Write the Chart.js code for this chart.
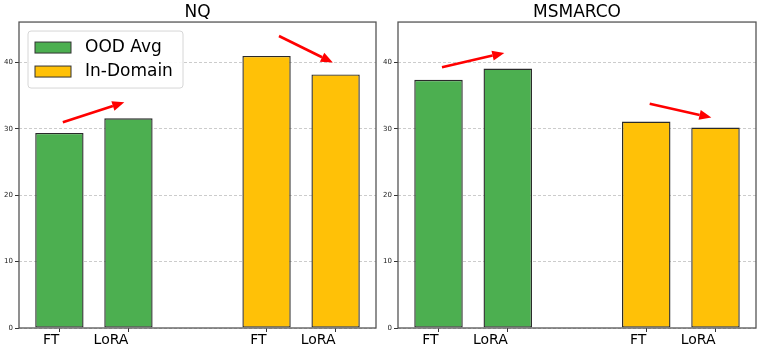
<!DOCTYPE html>
<html>
<head>
<meta charset="utf-8">
<script src="https://cdn.jsdelivr.net/npm/chart.js@4/dist/chart.umd.min.js"></script>
<style>
  html, body { margin: 0; padding: 0; background: #fff; overflow: hidden; }
  .panel { position: absolute; top: 0; height: 352px; }
  #left { left: 0; width: 380px; }
  #right { left: 380px; width: 381px; }
</style>
</head>
<body>
<div class="panel" id="left"><canvas id="nq-chart"></canvas></div>
<div class="panel" id="right"><canvas id="ms-chart"></canvas></div>
<script>
const methods = ['FT', 'LoRA'];
const seriesNames = ['OOD Avg', 'In-Domain'];
const oodPos = [0, 1];
const inDomainPos = [3, 4];

const nqOOD = [29.4, 31.6];
const nqInDomain = [41.0, 38.2];
const msOOD = [37.4, 39.1];
const msInDomain = [31.1, 30.2];

const yTicks = [0, 10, 20, 30, 40];
const yMax = 46.1;
const xMin = -0.585, xMax = 4.585;

// arrow annotations, data coords: [x0, y0, x1, y1]
const nqArrows = [[0.05, 31.0, 0.94, 34.0], [3.18, 44.0, 3.96, 40.0]];
const msArrows = [[0.05, 39.3, 0.95, 41.45], [3.05, 33.8, 3.94, 31.7]];

const colors = ['#4caf50', '#ffc107'];

Chart.defaults.font.family = 'DejaVu Sans';
Chart.defaults.color = '#000';

const framePlugin = {
  id: 'frame',
  afterDatasetsDraw(chart) {
    const { ctx, chartArea: a } = chart;
    ctx.save();
    ctx.strokeStyle = '#555';
    ctx.lineWidth = 1.3;
    ctx.strokeRect(a.left, a.top, a.right - a.left, a.bottom - a.top);
    ctx.restore();
  }
};

function arrowPlugin(list) {
  return {
    id: 'arrows',
    afterDatasetsDraw(chart) {
      const { ctx, scales: { x, y } } = chart;
      ctx.save();
      ctx.strokeStyle = '#ff0000';
      ctx.fillStyle = '#ff0000';
      ctx.lineWidth = 2.6;
      list.forEach(([x0, y0, x1, y1]) => {
        const px0 = x.getPixelForValue(x0), py0 = y.getPixelForValue(y0);
        const px1 = x.getPixelForValue(x1), py1 = y.getPixelForValue(y1);
        const ang = Math.atan2(py1 - py0, px1 - px0);
        const len = 12, half = 5;
        const bx = px1 - len * Math.cos(ang), by = py1 - len * Math.sin(ang);
        ctx.beginPath();
        ctx.moveTo(px0, py0);
        ctx.lineTo(bx, by);
        ctx.stroke();
        ctx.beginPath();
        ctx.moveTo(px1, py1);
        ctx.lineTo(bx + half * Math.sin(ang), by - half * Math.cos(ang));
        ctx.lineTo(bx - half * Math.sin(ang), by + half * Math.cos(ang));
        ctx.closePath();
        ctx.fill();
      });
      ctx.restore();
    }
  };
}

const legendPlugin = {
  id: 'boxLegend',
  afterDatasetsDraw(chart) {
    const { ctx, chartArea: a } = chart;
    const x0 = a.left + 9, y0 = a.top + 9, w = 155, h = 57, r = 3;
    ctx.save();
    ctx.fillStyle = 'rgba(255,255,255,0.9)';
    ctx.strokeStyle = '#d6d6d6';
    ctx.lineWidth = 1;
    ctx.beginPath();
    ctx.roundRect(x0, y0, w, h, r);
    ctx.fill();
    ctx.stroke();
    ctx.font = '17px "DejaVu Sans"';
    ctx.textBaseline = 'middle';
    chart.data.datasets.forEach((ds, i) => {
      const by = a.top + 20 + i * 24;
      ctx.fillStyle = ds.backgroundColor;
      ctx.fillRect(a.left + 16, by, 36, 11);
      ctx.strokeStyle = '#333';
      ctx.lineWidth = 1;
      ctx.strokeRect(a.left + 16, by, 36, 11);
      ctx.fillStyle = '#000';
      ctx.fillText(ds.label, a.left + 66, by + 6);
    });
    ctx.restore();
  }
};

function makeChart(id, title, ood, inDomain, arrows, yWidth, padRight, withLegend) {
  const ctx = document.getElementById(id);
  const plugins = [framePlugin, arrowPlugin(arrows)];
  if (withLegend) plugins.push(legendPlugin);
  return new Chart(ctx, {
    type: 'bar',
    data: {
      datasets: [
        {
          label: seriesNames[0],
          data: ood.map((v, i) => ({ x: oodPos[i], y: v })),
          backgroundColor: colors[0]
        },
        {
          label: seriesNames[1],
          data: inDomain.map((v, i) => ({ x: inDomainPos[i], y: v })),
          backgroundColor: colors[1]
        }
      ]
    },
    options: {
      responsive: true,
      maintainAspectRatio: false,
      animation: false,
      layout: { padding: { left: 0, right: padRight, top: 0, bottom: 0 } },
      datasets: {
        bar: {
          grouped: false,
          barPercentage: 0.7,
          categoryPercentage: 1,
          borderColor: '#2a2a2a',
          borderWidth: 1.4,
          borderSkipped: false
        }
      },
      plugins: {
        legend: { display: false },
        tooltip: { enabled: false },
        title: {
          display: true,
          text: title,
          fullSize: false,
          color: '#000',
          font: { size: 17, weight: 'normal', lineHeight: 1.12 },
          padding: { top: 3, bottom: 0 }
        }
      },
      scales: {
        x: {
          type: 'linear',
          min: xMin,
          max: xMax,
          offset: false,
          afterBuildTicks: s => { s.ticks = oodPos.concat(inDomainPos).map(v => ({ value: v })); },
          afterFit: s => { s.height = 24; },
          ticks: {
            callback: (v, i) => methods[i % methods.length],
            align: 'end',
            padding: 0,
            maxRotation: 0,
            autoSkip: false,
            color: '#000',
            font: { size: 14 }
          },
          grid: { offset: false, drawOnChartArea: false, drawTicks: true, tickLength: 4, tickColor: '#333', tickWidth: 1 },
          border: { display: false }
        },
        y: {
          min: 0,
          max: yMax,
          afterBuildTicks: s => { s.ticks = yTicks.map(v => ({ value: v })); },
          afterFit: s => { s.width = yWidth; },
          ticks: { padding: 2, color: '#222', font: { size: 7 } },
          grid: {
            color: 'rgba(170,170,170,0.75)',
            lineWidth: 0.8,
            tickLength: 4,
            tickColor: '#333',
            tickWidth: 1,
            tickBorderDash: []
          },
          border: { display: false, dash: [3, 2] }
        }
      }
    },
    plugins: plugins
  });
}

makeChart('nq-chart', 'NQ', nqOOD, nqInDomain, nqArrows, 19, 4, true);
makeChart('ms-chart', 'MSMARCO', msOOD, msInDomain, msArrows, 18, 5, false);
</script>
</body>
</html>
